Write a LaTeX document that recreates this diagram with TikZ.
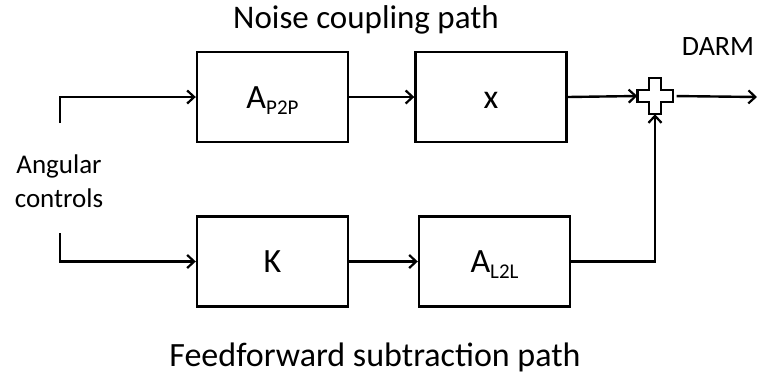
\documentclass[tikz,border=0pt]{standalone}
\usepackage{fontspec}
\setmainfont{Carlito}
\usetikzlibrary{arrows.meta}
\newcommand{\blksub}[1]{\raisebox{-6pt}{\fontsize{21}{24}\selectfont #1}}
\begin{document}
\begin{tikzpicture}[x=1pt,y=-1pt,
  blk/.style={draw=black,line width=2.4pt,minimum width=151pt,minimum height=90pt,inner sep=0pt,
    text height=22pt,text depth=0pt,font=\fontsize{34}{40}\selectfont},
  conn/.style={line width=2.4pt,-{Straight Barb[length=7pt,width=13pt,line width=2.2pt]}},
  lbl/.style={inner sep=0pt,anchor=base}]
\useasboundingbox (0,0) rectangle (757,376);
\node[lbl,font=\fontsize{33}{40}\selectfont] (t1) at (366,28) {Noise coupling path};
\node[lbl,font=\fontsize{34}{40}\selectfont] (t2) at (375,366) {Feedforward subtraction path};
\node[blk] (a) at (272.5,97) {A\blksub{P2P}};
\node[blk] (x) at (491,97) {x};
\node[blk] (k) at (272.5,261.5) {K};
\node[blk] (l) at (494.5,261.5) {A\blksub{L2L}};
\node[lbl,align=center,font=\fontsize{27}{34}\selectfont] (ang) at (59,207) {Angular\\controls};
\node[lbl,font=\fontsize{28}{32}\selectfont] (darm) at (718,55) {DARM};
\node[minimum width=35pt,minimum height=36pt,inner sep=0pt] (sum) at (655,96) {};
\draw[line width=2.4pt,fill=white]
  ([xshift=-6pt]sum.north) -- ([xshift=6pt]sum.north) -- ([xshift=6pt,yshift=6pt]sum.center) -- ([yshift=6pt]sum.east)
  -- ([yshift=-6pt]sum.east) -- ([xshift=6pt,yshift=-6pt]sum.center) -- ([xshift=6pt]sum.south) -- ([xshift=-6pt]sum.south)
  -- ([xshift=-6pt,yshift=-6pt]sum.center) -- ([yshift=-6pt]sum.west) -- ([yshift=6pt]sum.west) -- ([xshift=-6pt,yshift=6pt]sum.center) -- cycle;
\coordinate (in1) at (60,123);
\coordinate (in2) at (60,233);
\coordinate (out) at (757,97);
\draw[conn] (in1) |- (a.west);
\draw[conn] (in2) |- (k.west);
\draw[conn] (a.east) -- (x.west);
\draw[conn] (k.east) -- (l.west);
\draw[conn] (x.east) -- (sum.west);
\draw[conn] (l.east) -| (sum.south);
\draw[conn,shorten <=4pt] (sum.east) -- (out);
\end{tikzpicture}
\end{document}
